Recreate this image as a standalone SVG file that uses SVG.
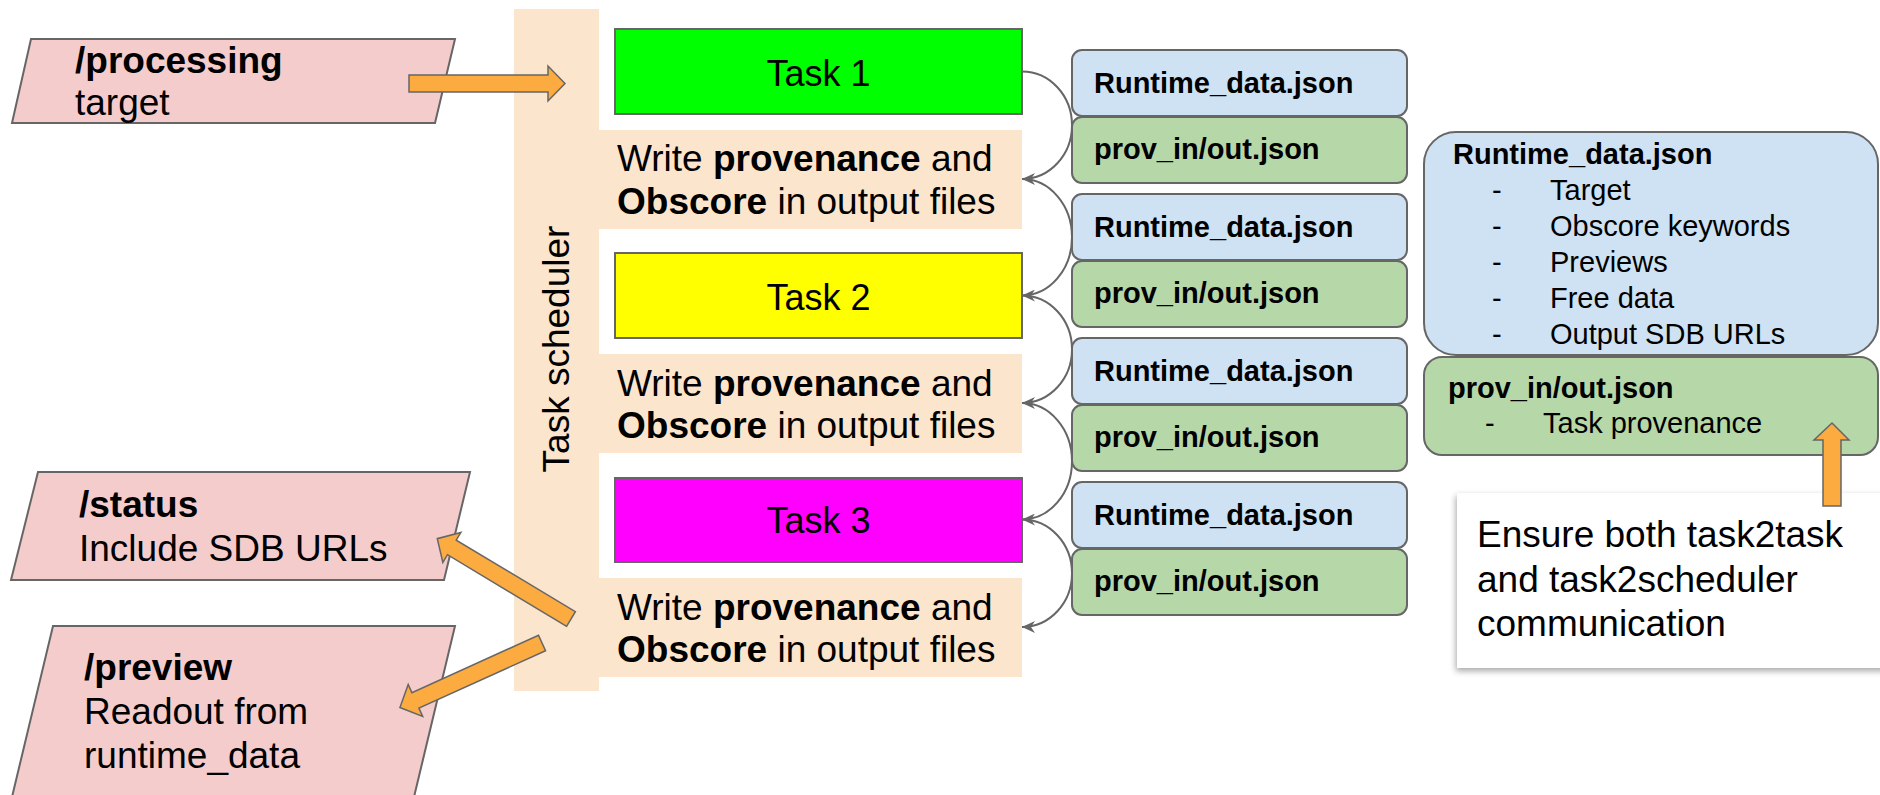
<svg xmlns="http://www.w3.org/2000/svg" width="1880" height="795" viewBox="0 0 1880 795">
  <defs>
    <style>
      text { font-family: "Liberation Sans", Arial, sans-serif; fill: #000; }
      .b { font-weight: bold; }
      .f37 { font-size: 37px; }
      .f36 { font-size: 36px; }
      .f29 { font-size: 29px; }
      .io { fill: #f4cccc; stroke: #666; stroke-width: 2; }
      .task { stroke: #666; stroke-width: 2; }
      .peach { fill: #fce5cd; }
      .rt { fill: #cfe2f3; stroke: #666; stroke-width: 2; }
      .pv { fill: #b6d7a8; stroke: #666; stroke-width: 2; }
      .blk { fill: #fbab40; stroke: #666; stroke-width: 1.5; }
      .conn { fill: none; stroke: #666; stroke-width: 2; marker-end: url(#head); }
    </style>
    <marker id="head" viewBox="0 0 14 12" refX="13" refY="6" markerWidth="14" markerHeight="12" markerUnits="userSpaceOnUse" orient="auto">
      <path d="M13,6 L0,0 L4,6 L0,12 Z" fill="#666"/>
    </marker>
    <!-- thick block arrow pointing along +x, tail at origin -->
    <path id="blockArrow" d="M0,-8.5 L139,-8.5 L139,-17.5 L156,0 L139,17.5 L139,8.5 L0,8.5 Z"/>
    <filter id="shadow" x="-10%" y="-10%" width="125%" height="135%">
      <feDropShadow dx="-1" dy="3" stdDeviation="3" flood-color="#000" flood-opacity="0.35"/>
    </filter>
  </defs>

  <rect width="1880" height="795" fill="#fff"/>

  <!-- scheduler band and the write steps attached to it -->
  <g id="scheduler">
    <rect class="peach" x="514" y="9" width="85" height="682"/>
    <text class="f37" transform="translate(569,349) rotate(-90)" text-anchor="middle">Task scheduler</text>
  </g>

  <g id="write1">
    <rect class="peach" x="599" y="130" width="423" height="99"/>
    <text class="f37" x="617" y="171">Write <tspan class="b">provenance</tspan> and</text>
    <text class="f37" x="617" y="214"><tspan class="b">Obscore</tspan> in output files</text>
  </g>
  <g id="write2">
    <rect class="peach" x="599" y="354" width="423" height="99"/>
    <text class="f37" x="617" y="396">Write <tspan class="b">provenance</tspan> and</text>
    <text class="f37" x="617" y="438"><tspan class="b">Obscore</tspan> in output files</text>
  </g>
  <g id="write3">
    <rect class="peach" x="599" y="578" width="423" height="99"/>
    <text class="f37" x="617" y="620">Write <tspan class="b">provenance</tspan> and</text>
    <text class="f37" x="617" y="662"><tspan class="b">Obscore</tspan> in output files</text>
  </g>

  <!-- tasks -->
  <g id="task1">
    <rect class="task" x="615" y="29" width="407" height="85" fill="#00ff00"/>
    <text class="f36" x="818.5" y="86" text-anchor="middle">Task 1</text>
  </g>
  <g id="task2">
    <rect class="task" x="615" y="253" width="407" height="85" fill="#ffff00"/>
    <text class="f36" x="818.5" y="310" text-anchor="middle">Task 2</text>
  </g>
  <g id="task3">
    <rect class="task" x="615" y="478" width="407" height="84" fill="#ff00ff"/>
    <text class="f36" x="818.5" y="533" text-anchor="middle">Task 3</text>
  </g>

  <!-- endpoints -->
  <g id="processing">
    <path class="io" d="M31,39 L455,39 L435,123 L12,123 Z"/>
    <text class="f37 b" x="75" y="73">/processing</text>
    <text class="f37" x="75" y="115">target</text>
  </g>
  <g id="status">
    <path class="io" d="M38,472 L470,472 L444,580 L11,580 Z"/>
    <text class="f37 b" x="79" y="517">/status</text>
    <text class="f37" x="79" y="561">Include SDB URLs</text>
  </g>
  <g id="preview">
    <path class="io" d="M53,626 L455,626 L414,797 L12,797 Z"/>
    <text class="f37 b" x="84" y="680">/preview</text>
    <text class="f37" x="84" y="724">Readout from</text>
    <text class="f37" x="84" y="768">runtime_data</text>
  </g>

  <!-- per-task data files -->
  <g id="files1">
    <rect class="rt" x="1072" y="50" width="335" height="66" rx="10"/>
    <text class="f29 b" x="1094" y="93">Runtime_data.json</text>
    <rect class="pv" x="1072" y="117" width="335" height="66" rx="10"/>
    <text class="f29 b" x="1094" y="159">prov_in/out.json</text>
  </g>
  <g id="files2">
    <rect class="rt" x="1072" y="194" width="335" height="66" rx="10"/>
    <text class="f29 b" x="1094" y="237">Runtime_data.json</text>
    <rect class="pv" x="1072" y="261" width="335" height="66" rx="10"/>
    <text class="f29 b" x="1094" y="303">prov_in/out.json</text>
  </g>
  <g id="files3">
    <rect class="rt" x="1072" y="338" width="335" height="66" rx="10"/>
    <text class="f29 b" x="1094" y="381">Runtime_data.json</text>
    <rect class="pv" x="1072" y="405" width="335" height="66" rx="10"/>
    <text class="f29 b" x="1094" y="447">prov_in/out.json</text>
  </g>
  <g id="files4">
    <rect class="rt" x="1072" y="482" width="335" height="66" rx="10"/>
    <text class="f29 b" x="1094" y="525">Runtime_data.json</text>
    <rect class="pv" x="1072" y="549" width="335" height="66" rx="10"/>
    <text class="f29 b" x="1094" y="591">prov_in/out.json</text>
  </g>

  <!-- file content legend -->
  <g id="runtimeLegend">
    <rect class="rt" x="1424" y="132" width="454" height="223" rx="32"/>
    <text class="f29 b" x="1453" y="164">Runtime_data.json</text>
    <g class="f29">
      <text x="1492" y="200">-</text><text x="1550" y="200">Target</text>
      <text x="1492" y="236">-</text><text x="1550" y="236">Obscore keywords</text>
      <text x="1492" y="272">-</text><text x="1550" y="272">Previews</text>
      <text x="1492" y="308">-</text><text x="1550" y="308">Free data</text>
      <text x="1492" y="344">-</text><text x="1550" y="344">Output SDB URLs</text>
    </g>
  </g>
  <g id="provLegend">
    <rect class="pv" x="1424" y="357" width="454" height="98" rx="18"/>
    <text class="f29 b" x="1448" y="398">prov_in/out.json</text>
    <text class="f29" x="1485" y="433">-</text>
    <text class="f29" x="1543" y="433">Task provenance</text>
  </g>

  <g id="note">
    <rect x="1457" y="493" width="440" height="175" fill="#fff" filter="url(#shadow)"/>
    <text class="f37" x="1477" y="547">Ensure both task2task</text>
    <text class="f37" x="1477" y="592">and task2scheduler</text>
    <text class="f37" x="1477" y="636">communication</text>
  </g>

  <!-- connectors -->
  <g id="connectors">
    <path class="conn" d="M1022,71.5 A50,53.75 0 0 1 1022,179"/>
    <path class="conn" d="M1022,179 A50,58.25 0 0 1 1022,295.5"/>
    <path class="conn" d="M1022,295.5 A50,53.75 0 0 1 1022,403"/>
    <path class="conn" d="M1022,403 A50,58.25 0 0 1 1022,519.5"/>
    <path class="conn" d="M1022,519.5 A50,53.75 0 0 1 1022,627"/>
    <use href="#blockArrow" class="blk" transform="translate(409,83.5)"/>
    <use href="#blockArrow" class="blk" transform="translate(571,619) rotate(211)"/>
    <use href="#blockArrow" class="blk" transform="translate(542,643) rotate(155.6)"/>
    <path class="blk" d="M1823,506 L1823,440 L1814,440 L1832,423 L1849,440 L1841,440 L1841,506 Z"/>
  </g>
</svg>
